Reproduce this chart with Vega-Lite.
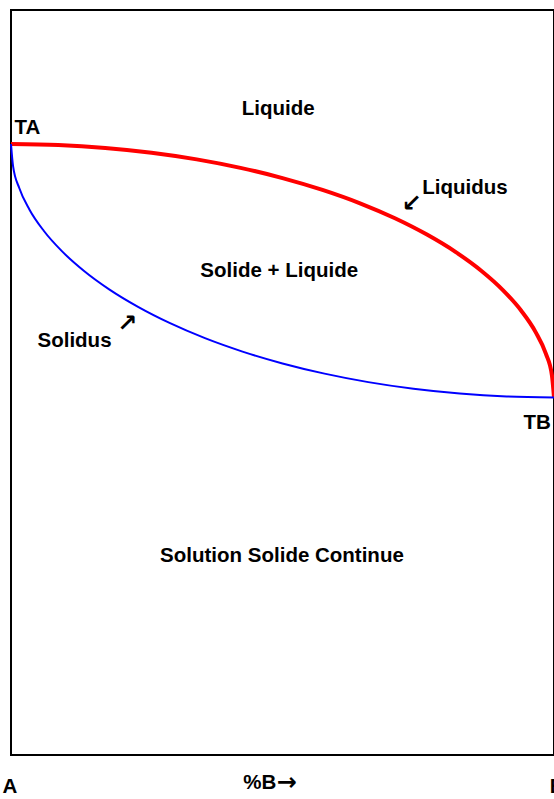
{
  "$schema": "https://vega.github.io/schema/vega-lite/v6.json",
  "width": 543,
  "height": 745,
  "autosize": {"type": "none"},
  "padding": {"left": 11, "top": 10, "right": 0, "bottom": 44},
  "background": "white",
  "config": {"view": {"stroke": "black", "strokeWidth": 2}},
  "datasets": {
    "liquidus": [
      {"x": 0, "T": 82}, {"x": 8.72, "T": 81.87}, {"x": 17.36, "T": 81.48}, {"x": 25.88, "T": 80.84},
      {"x": 34.2, "T": 79.95}, {"x": 42.26, "T": 78.81}, {"x": 50.0, "T": 77.44}, {"x": 57.36, "T": 75.85},
      {"x": 64.28, "T": 74.05}, {"x": 70.71, "T": 72.04}, {"x": 76.6, "T": 69.85}, {"x": 81.92, "T": 67.5},
      {"x": 86.6, "T": 65.0}, {"x": 90.63, "T": 62.37}, {"x": 93.97, "T": 59.63}, {"x": 96.59, "T": 56.8},
      {"x": 98.48, "T": 53.9}, {"x": 99.62, "T": 50.96}, {"x": 100, "T": 48}
    ],
    "solidus": [
      {"x": 0, "T": 82}, {"x": 0.38, "T": 79.04}, {"x": 1.52, "T": 76.1}, {"x": 3.41, "T": 73.2},
      {"x": 6.03, "T": 70.37}, {"x": 9.37, "T": 67.63}, {"x": 13.4, "T": 65.0}, {"x": 18.08, "T": 62.5},
      {"x": 23.4, "T": 60.15}, {"x": 29.29, "T": 57.96}, {"x": 35.72, "T": 55.95}, {"x": 42.64, "T": 54.15},
      {"x": 50.0, "T": 52.56}, {"x": 57.74, "T": 51.19}, {"x": 65.8, "T": 50.05}, {"x": 74.12, "T": 49.16},
      {"x": 82.64, "T": 48.52}, {"x": 91.28, "T": 48.13}, {"x": 100, "T": 48}
    ],
    "labels": [
      {"label": "Liquide", "x": 49.2, "T": 86.7},
      {"label": "TA", "x": 3.0, "T": 84.1},
      {"label": "Liquidus", "x": 83.6, "T": 76.1},
      {"label": "Solide + Liquide", "x": 49.4, "T": 65.0},
      {"label": "Solidus", "x": 11.7, "T": 55.6},
      {"label": "TB", "x": 96.9, "T": 44.6},
      {"label": "Solution Solide Continue", "x": 49.9, "T": 26.7},
      {"label": "A", "x": -0.2, "T": -4.3},
      {"label": "%B", "x": 45.8, "T": -3.7},
      {"label": "B", "x": 100.6, "T": -4.3}
    ],
    "arrows": [
      {"label": "↙", "x": 73.8, "T": 74.0},
      {"label": "↗", "x": 21.4, "T": 57.8},
      {"label": "→", "x": 50.8, "T": -3.7}
    ]
  },
  "layer": [
    {
      "data": {"name": "liquidus"},
      "mark": {"type": "line", "color": "#ff0000", "strokeWidth": 4, "interpolate": "monotone", "clip": false},
      "encoding": {
        "x": {"field": "x", "type": "quantitative", "scale": {"domain": [0, 100], "nice": false}, "axis": null},
        "y": {"field": "T", "type": "quantitative", "scale": {"domain": [0, 100], "nice": false}, "axis": null}
      }
    },
    {
      "data": {"name": "solidus"},
      "mark": {"type": "line", "color": "#0000ff", "strokeWidth": 2, "interpolate": "monotone", "clip": false},
      "encoding": {
        "x": {"field": "x", "type": "quantitative"},
        "y": {"field": "T", "type": "quantitative"}
      }
    },
    {
      "data": {"name": "labels"},
      "mark": {"type": "text", "font": "Liberation Sans", "fontWeight": "bold", "fontSize": 20.5, "color": "black", "align": "center", "baseline": "middle", "clip": false},
      "encoding": {
        "x": {"field": "x", "type": "quantitative"},
        "y": {"field": "T", "type": "quantitative"},
        "text": {"field": "label"}
      }
    },
    {
      "data": {"name": "arrows"},
      "mark": {"type": "text", "font": "DejaVu Sans", "fontWeight": "bold", "fontSize": 24, "color": "black", "align": "center", "baseline": "middle", "clip": false},
      "encoding": {
        "x": {"field": "x", "type": "quantitative"},
        "y": {"field": "T", "type": "quantitative"},
        "text": {"field": "label"}
      }
    }
  ]
}
